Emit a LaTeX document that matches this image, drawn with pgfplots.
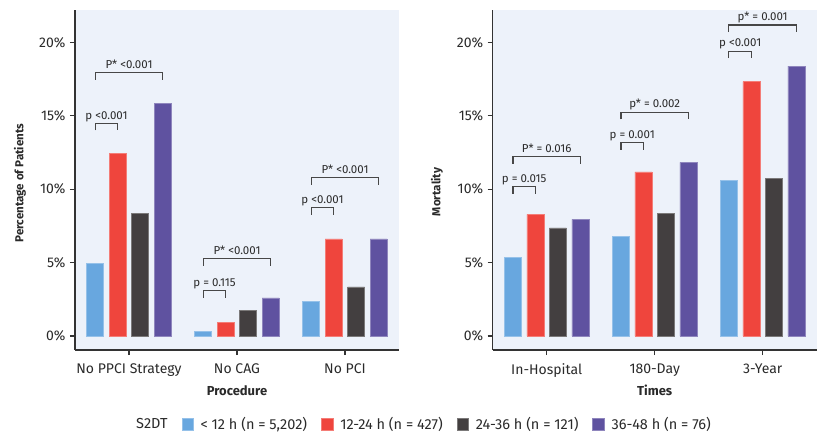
\documentclass[border=0pt]{standalone}
\usepackage{pgfplots}
\pgfplotsset{compat=1.18}
\usepackage{fontspec}
\setmainfont{Fira Sans}
\definecolor{cblue}{HTML}{68A7DF}
\definecolor{cred}{HTML}{EF453D}
\definecolor{cdark}{HTML}{433F40}
\definecolor{cpurp}{HTML}{5F52A0}
\definecolor{cbg}{HTML}{EDF2FA}
\definecolor{ctxt}{HTML}{2A2A2A}
\definecolor{cline}{HTML}{333333}
\tikzset{brk/.style={draw=cline!90, line width=1.1pt},
  brklab/.style={font=\fontsize{11.5}{13}\selectfont, text=ctxt, anchor=base, yshift=4.5pt}}
% x1 x2 y ylow label
\newcommand{\brk}[5]{%
  \draw[brk] (axis cs:#1,#4) -- (axis cs:#1,#3) -- (axis cs:#2,#3) -- (axis cs:#2,#4);
  \path (axis cs:#1,#3) -- (axis cs:#2,#3) node[midway, brklab] {#5};}
\pgfplotsset{
  mystyle/.style={
    scale only axis, width=324pt, height=340pt,
    ybar=5.5pt, bar width=17pt,
    xmin=-0.5, xmax=2.5, ymin=-0.953, ymax=22.2,
    axis lines*=left, axis line style={cline, line width=1.2pt, -},
    axis background/.style={fill=cbg},
    xtick={0,1,2}, ytick={0,5,10,15,20},
    yticklabels={0\%,5\%,10\%,15\%,20\%},
    tick align=outside, major tick length=5pt,
    tick style={cline, line width=1.2pt},
    tick label style={font=\fontsize{14}{16}\selectfont, text=ctxt},
    xticklabel style={yshift=-5pt},
    yticklabel style={xshift=-1pt},
    /pgf/number format/assume math mode=true,
    every axis x label/.style={at={(axis description cs:0.5,0)}, anchor=center, yshift=-40.7pt, font=\bfseries\fontsize{13}{15}\selectfont, text=ctxt},
    every axis y label/.style={at={(axis description cs:0,0.5)}, rotate=90, anchor=center, font=\bfseries\fontsize{11.6}{14}\selectfont, text=ctxt},
    legend image code/.code={\fill[##1] (0pt,-5.8pt) rectangle (11.6pt,5.8pt);},
  }
}
\begin{document}
\begin{tikzpicture}
\path[use as bounding box] (-75pt,-84pt) rectangle (756pt,350pt);
\begin{axis}[mystyle,
  xticklabels={No PPCI Strategy, No CAG, No PCI},
  xlabel={Procedure}, ylabel={Percentage of Patients},
  ylabel style={at={(axis description cs:-0.17,0.491)}},
  legend columns=5,
  legend style={at={(axis description cs:1.068,-0.2176)}, anchor=center, draw=none, fill=none,
    font=\fontsize{14.5}{16}\selectfont, text=ctxt,
    /tikz/every even column/.append style={column sep=12pt},
    /tikz/every odd column/.append style={column sep=5pt}},
]
\addlegendimage{empty legend}\addlegendentry{S2DT}
\addplot[fill=cblue, draw=cblue!70!white, line width=0.5pt] coordinates {(0,4.95) (1,0.3) (2,2.36)};
\addlegendentry{< 12 h (n = 5,202)}
\addplot[fill=cred, draw=cred!70!white, line width=0.5pt] coordinates {(0,12.43) (1,0.93) (2,6.62)};
\addlegendentry{12-24 h (n = 427)}
\addplot[fill=cdark, draw=cdark!70!white, line width=0.5pt] coordinates {(0,8.35) (1,1.75) (2,3.35)};
\addlegendentry{24-36 h (n = 121)}
\addplot[fill=cpurp, draw=cpurp!70!white, line width=0.5pt] coordinates {(0,15.83) (1,2.6) (2,6.62)};
\addlegendentry{36-48 h (n = 76)}
\brk{-0.3125}{-0.104}{14.47}{14.0}{p <0.001}
\brk{-0.3125}{0.3125}{17.94}{17.45}{P* <0.001}
\brk{0.6875}{0.896}{3.08}{2.6}{p = 0.115}
\brk{0.6875}{1.3125}{5.26}{4.78}{P* <0.001}
\brk{1.6875}{1.896}{8.73}{8.25}{p <0.001}
\brk{1.6875}{2.3125}{10.77}{10.29}{P* <0.001}
\end{axis}
\begin{axis}[mystyle, xshift=417.7pt,
  xticklabels={In-Hospital, 180-Day, 3-Year},
  xlabel={Times}, ylabel={Mortality},
  ylabel style={at={(axis description cs:-0.172,0.465)}},
]
\addplot[fill=cblue, draw=cblue!70!white, line width=0.5pt] coordinates {(0,5.33) (1,6.8) (2,10.6)};
\addplot[fill=cred, draw=cred!70!white, line width=0.5pt] coordinates {(0,8.28) (1,11.18) (2,17.33)};
\addplot[fill=cdark, draw=cdark!70!white, line width=0.5pt] coordinates {(0,7.37) (1,8.35) (2,10.73)};
\addplot[fill=cpurp, draw=cpurp!70!white, line width=0.5pt] coordinates {(0,7.94) (1,11.82) (2,18.37)};
\brk{-0.3125}{-0.104}{10.16}{9.68}{p = 0.015}
\brk{-0.3125}{0.3125}{12.2}{11.72}{P* = 0.016}
\brk{0.6875}{0.896}{13.15}{12.67}{p = 0.001}
\brk{0.6875}{1.3125}{15.24}{14.76}{p* = 0.002}
\brk{1.6875}{1.896}{19.4}{18.92}{p <0.001}
\brk{1.6875}{2.3125}{21.18}{20.7}{p* = 0.001}
\end{axis}
\end{tikzpicture}
\end{document}
